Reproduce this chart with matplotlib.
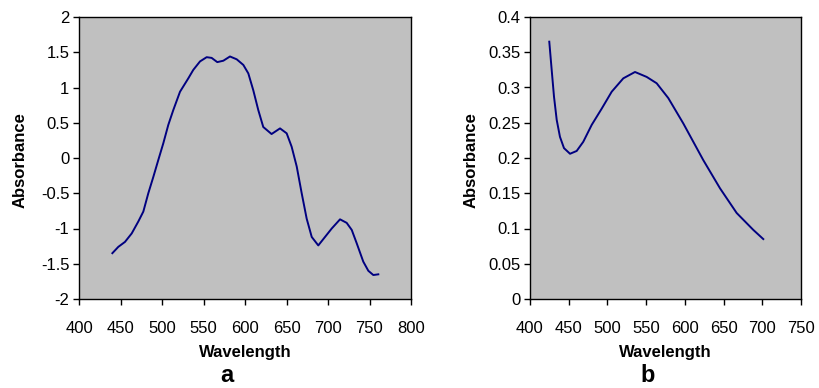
import matplotlib.pyplot as plt
from matplotlib.ticker import FuncFormatter, MultipleLocator

plt.rcParams['font.family'] = ['Liberation Sans', 'DejaVu Sans']
plt.rcParams['axes.unicode_minus'] = False

# spectrum a
wl_a = [440.2, 447.4, 455.4, 463.5, 471.5, 477.5, 483.5, 489.5, 495.5, 501.6,
        507.6, 513.6, 521.7, 531.7, 537.7, 545.8, 553.8, 559.8, 566.6, 573.9,
        581.9, 590.0, 598.0, 604.0, 610.0, 616.0, 622.0, 632.0, 642.2, 650.2,
        656.2, 662.3, 668.3, 674.3, 680.4, 688.3, 696.4, 704.5, 714.5, 722.5,
        728.6, 734.6, 742.5, 748.6, 754.6, 760.6]
abs_a = [-1.35, -1.26, -1.19, -1.07, -0.90, -0.76, -0.50, -0.27, -0.03, 0.21,
         0.47, 0.68, 0.94, 1.13, 1.25, 1.37, 1.43, 1.42, 1.36, 1.38,
         1.44, 1.40, 1.32, 1.20, 0.96, 0.68, 0.44, 0.34, 0.42, 0.35,
         0.16, -0.12, -0.50, -0.86, -1.12, -1.24, -1.12, -1.00, -0.87, -0.92,
         -1.02, -1.21, -1.47, -1.60, -1.66, -1.65]

# spectrum b
wl_b = [424.9, 428.0, 431.0, 434.5, 438.7, 443.9, 451.7, 460.3, 468.8, 479.7,
        492.6, 505.5, 520.5, 535.6, 550.7, 563.6, 578.6, 598.0, 623.8, 645.4,
        666.9, 688.4, 701.3]
abs_b = [0.365, 0.325, 0.287, 0.254, 0.230, 0.214, 0.206, 0.210, 0.223, 0.247,
         0.270, 0.294, 0.313, 0.322, 0.315, 0.306, 0.285, 0.249, 0.197, 0.157,
         0.122, 0.098, 0.085]

W, H = 819, 388
fig = plt.figure(figsize=(W / 100, H / 100), dpi=100)
fmt = FuncFormatter(lambda v, p: '%g' % round(v, 4))


def panel(rect, x, y, xlim, ylim, xstep, ystep, letter):
    l, t, r, b = rect
    ax = fig.add_axes([l / W, 1 - b / H, (r - l) / W, (b - t) / H])
    ax.set_facecolor('#c0c0c0')
    ax.plot(x, y, color='#000080', lw=1.4)
    ax.set_xlim(*xlim)
    ax.set_ylim(*ylim)
    ax.xaxis.set_major_locator(MultipleLocator(xstep))
    ax.yaxis.set_major_locator(MultipleLocator(ystep))
    ax.yaxis.set_major_formatter(fmt)
    ax.tick_params(direction='out', length=4, width=1, labelsize=12, pad=3)
    ax.tick_params(axis='x', pad=12)
    for s in ax.spines.values():
        s.set_linewidth(1)
    cx = (l + r) / 2
    fig.text(cx / W, 1 - 353 / H, 'Wavelength', ha='center', va='center',
             fontsize=12, fontweight='bold')
    fig.text((cx - 18) / W, 1 - 376 / H, letter, ha='center', va='center',
             fontsize=17, fontweight='bold')
    fig.text((l - 59) / W, 1 - 160 / H, 'Absorbance', ha='center', va='center',
             rotation=90, fontsize=12, fontweight='bold')
    return ax


panel((79, 17, 411, 299), wl_a, abs_a, (400, 800), (-2, 2), 50, 0.5, 'a')
panel((530, 17, 801, 299), wl_b, abs_b, (400, 750), (0, 0.4), 50, 0.05, 'b')

fig.savefig('out.png', dpi=100)
